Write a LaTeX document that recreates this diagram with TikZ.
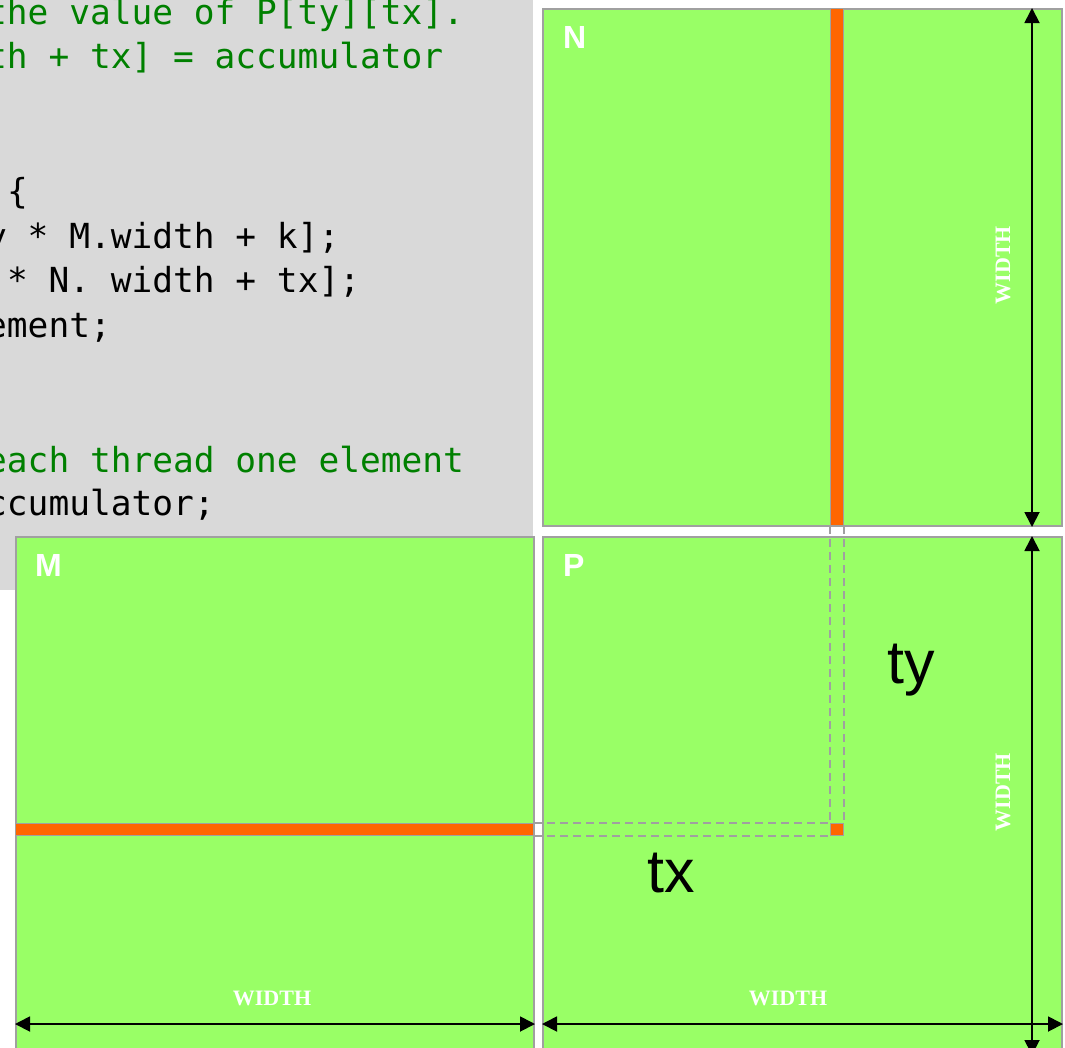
\documentclass[tikz,border=0pt]{standalone}
\usepackage{fontspec}
\setmainfont{Liberation Serif}
\setsansfont{Liberation Sans}
\setmonofont{DejaVu Sans Mono}
\usetikzlibrary{arrows.meta}

\definecolor{codegray}{RGB}{217,217,217}
\definecolor{matgreen}{RGB}{153,255,102}
\definecolor{edgegray}{RGB}{160,160,160}
\definecolor{stripe}{RGB}{255,102,0}
\definecolor{commentgreen}{RGB}{0,128,0}

\tikzset{
  matbox/.style={draw=edgegray, line width=2pt, fill=matgreen, inner sep=0pt,
    minimum width=519pt, minimum height=517pt, anchor=north west},
  stripbox/.style={draw=edgegray, line width=1.2pt, fill=stripe, inner sep=0pt, anchor=north west},
  dimarrow/.style={line width=1.8pt, {Triangle[width=15pt,length=15pt]}-{Triangle[width=15pt,length=15pt]}},
  guide/.style={draw=edgegray, line width=2pt, dash pattern=on 8pt off 5pt},
  code/.style={anchor=base west, inner sep=0pt, font=\ttfamily\fontsize{34.5}{40}\selectfont},
  comment/.style={code, text=commentgreen},
  matlabel/.style={anchor=base west, inner sep=0pt, text=white, font=\sffamily\bfseries\fontsize{32}{36}\selectfont},
  dimlabel/.style={inner sep=0pt, text=white, font=\rmfamily\bfseries\fontsize{22}{24}\selectfont},
  idxlabel/.style={anchor=base west, inner sep=0pt, font=\sffamily\fontsize{61}{66}\selectfont}
}

\begin{document}
\begin{tikzpicture}[x=1pt,y=-1pt]
  \useasboundingbox (0,0) rectangle (1065,1047);
  \clip (0,0) rectangle (1065,1047);

  % Code panel
  \fill[codegray] (0,0) rectangle (533,590);
  \node[comment] (c1) at (-14,24) {the value of P[ty][tx].};
  \node[comment] (c2) at (-14,68) {th + tx] = accumulator};
  \node[code] (c5) at (6.8,203) {\{};
  \node[code] (c6) at (-14,248) {y * M.width + k];};
  \node[code] (c7) at (6.8,292) {* N. width + tx];};
  \node[code] (c8) at (-14,337) {ement;};
  \node[comment] (c11) at (-14,472) {each thread one element};
  \node[code] (c12) at (-14,515) {ccumulator;};

  % Matrices
  \node[matbox] (N) at (542,8) {};
  \node[matbox, minimum width=518pt] (M) at (15,536) {};
  \node[matbox] (P) at (542,536) {};

  % Row, column and element
  \node[stripbox, minimum width=12.5pt, minimum height=517pt] (Ncol) at (830,8) {};
  \node[stripbox, minimum width=518pt, minimum height=12pt] (Mrow) at (15,823) {};
  \node[stripbox, minimum width=12.5pt, minimum height=12pt] (Pel) at (830,823) {};

  % Guides
  \draw[guide] (Ncol.south west) -- (Pel.north west);
  \draw[guide] (Ncol.south east) -- (Pel.north east);
  \draw[guide] (Mrow.north east) -- (Pel.north west);
  \draw[guide] (Mrow.south east) -- (Pel.south west);

  % Dimension arrows
  \draw[dimarrow] ([xshift=-31pt]N.north east) -- ([xshift=-31pt]N.south east);
  \draw[dimarrow] ([xshift=-31pt]P.north east) -- ([xshift=-31pt]P.south east);
  \draw[dimarrow] ([yshift=31pt]M.south west) -- ([yshift=31pt]M.south east);
  \draw[dimarrow] ([yshift=31pt]P.south west) -- ([yshift=31pt]P.south east);

  % Labels
  \node[matlabel] (Nlab) at (563,48) {N};
  \node[matlabel] (Mlab) at (35,576) {M};
  \node[matlabel] (Plab) at (563,576) {P};
  \node[dimlabel] (Mw) at (272,998) {WIDTH};
  \node[dimlabel] (Pw) at (788,998) {WIDTH};
  \node[dimlabel, rotate=90] (Nh) at (1003,265) {WIDTH};
  \node[dimlabel, rotate=90] (Ph) at (1003,792) {WIDTH};
  \node[idxlabel] (ty) at (887,683) {ty};
  \node[idxlabel] (tx) at (647,892) {tx};
\end{tikzpicture}
\end{document}
